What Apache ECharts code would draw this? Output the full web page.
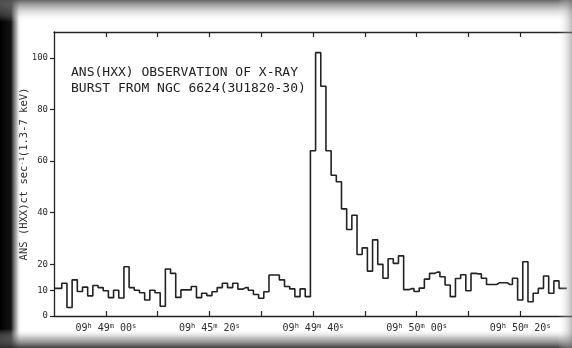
<!DOCTYPE html>
<html>
<head>
<meta charset="utf-8">
<script src="https://cdn.jsdelivr.net/npm/echarts@6/dist/echarts.min.js"></script>
<style>
  html, body { margin: 0; padding: 0; background: #fff; }
  #chart { width: 572px; height: 348px; }
</style>
</head>
<body>
<div id="chart"></div>
<script>
// Count rate per 1-second bin, starting at 09h48m50s (t = 0 s)
const countRate = [
  10.7, 10.7, 12.7, 3.3, 14, 9.5, 11.2, 7.8, 11.8, 11,
  9.8, 7.1, 10, 7, 19.1, 11, 10, 9, 6.2, 10,
  9, 3.8, 18.2, 16.5, 7.2, 10.1, 10.1, 11.4, 7.1, 8.8,
  7.9, 9.4, 11, 12.7, 11, 12.7, 10.4, 11, 10, 8.3,
  6.9, 9.4, 15.9, 15.9, 14, 11.4, 10.5, 7.5, 10.5, 7.5,
  64, 102, 89, 64, 54.5, 52, 41.5, 33.5, 39, 23.8,
  26.4, 17.4, 29.5, 20, 14.6, 22.2, 20.4, 23.3, 10.2, 10.6,
  9.5, 10.8, 14.3, 16.5, 17, 15.2, 12, 7.5, 14.5, 16,
  9.8, 16.5, 16.3, 14.6, 12.2, 12.2, 12.9, 12.9, 12.2, 14.6,
  6.2, 21, 5.5, 8.8, 10.7, 15.5, 8.8, 13.6, 10.7, 10.7
];

// Time axis (seconds after 09h48m50s)
const tickSeconds = [10, 20, 30, 40, 50, 60, 70, 80, 90];
const labelSeconds = [10, 30, 50, 70, 90];
const timeLabels = ['09h49m00s', '09h45m20s', '09h49m40s', '09h50m00s', '09h50m20s'];

// Count-rate axis
const yTickValues = [0, 10, 20, 40, 60, 80, 100];

const titleLines = ['ANS(HXX) OBSERVATION OF X-RAY', 'BURST FROM NGC 6624(3U1820-30)'];

const MONO = "'DejaVu Sans Mono', 'Liberation Mono', monospace";
const INK = '#222222';

// Turn "09h49m00s" into rich text with raised unit letters
function richTime(str) {
  return str.replace(/(\d\d)([hms])/g, '$1{s|$2} ').trim();
}

const binData = countRate.map((v, i) => [i, v]);

const chart = echarts.init(document.getElementById('chart'), null, { renderer: 'canvas' });

chart.setOption({
  animation: false,
  backgroundColor: '#ffffff',
  title: {
    text: titleLines.join('\n'),
    left: 66,
    top: 60,
    textStyle: {
      fontFamily: MONO,
      fontSize: 13,
      fontWeight: 'normal',
      lineHeight: 15.5,
      color: '#222'
    }
  },
  grid: { left: 54, top: 32, width: 525, height: 284, containLabel: false },
  xAxis: [
    {
      type: 'value',
      position: 'bottom',
      min: 0,
      max: 100,
      interval: 10,
      splitLine: { show: false },
      axisLine: { onZero: false, lineStyle: { color: INK, width: 1.3 } },
      axisTick: {
        inside: true, length: 5, customValues: tickSeconds,
        lineStyle: { color: INK, width: 1.2 }
      },
      axisLabel: {
        margin: 7,
        customValues: labelSeconds,
        fontFamily: MONO,
        fontSize: 10,
        color: '#2a2a2a',
        formatter: function (val) {
          const i = labelSeconds.indexOf(Math.round(val));
          return i >= 0 ? richTime(timeLabels[i]) : '';
        },
        rich: {
          s: { fontFamily: MONO, fontSize: 7, color: '#2a2a2a', verticalAlign: 'top', lineHeight: 8 }
        }
      }
    },
    {
      type: 'value',
      position: 'top',
      min: 0,
      max: 100,
      interval: 10,
      splitLine: { show: false },
      axisLine: { onZero: false, lineStyle: { color: INK, width: 1.3 } },
      axisTick: {
        inside: true, length: 5, customValues: tickSeconds,
        lineStyle: { color: INK, width: 1.2 }
      },
      axisLabel: { show: false }
    }
  ],
  yAxis: {
    type: 'value',
    min: 0,
    max: 110,
    interval: 10,
    splitLine: { show: false },
    axisLine: { show: true, onZero: false, lineStyle: { color: INK, width: 1.3 } },
    axisTick: {
      show: true, inside: false, length: 4, customValues: yTickValues,
      lineStyle: { color: INK, width: 1.2 }
    },
    axisLabel: {
      margin: 6,
      customValues: yTickValues,
      fontFamily: MONO,
      fontSize: 9,
      color: '#2a2a2a',
      formatter: function (val) {
        return yTickValues.indexOf(val) >= 0 ? String(val) : '';
      }
    },
    name: 'ANS (HXX)ct sec{sup|-1}(1.3-7 keV)',
    nameLocation: 'middle',
    nameRotate: 90,
    nameGap: 24,
    nameMoveOverlap: false,
    nameTextStyle: {
      fontFamily: MONO,
      fontSize: 10.5,
      color: '#2a2a2a',
      rich: {
        sup: { fontFamily: MONO, fontSize: 7, color: '#2a2a2a', verticalAlign: 'top', lineHeight: 8 }
      }
    }
  },
  series: [
    {
      type: 'line',
      step: 'middle',
      data: binData,
      symbol: 'none',
      showSymbol: false,
      clip: true,
      lineStyle: { color: INK, width: 1.6 }
    }
  ],
  // darkened edges of the photographed sheet
  graphic: [
    {
      type: 'rect', z: 100, silent: true,
      shape: { x: 0, y: 0, width: 22, height: 348 },
      style: {
        fill: {
          type: 'linear', x: 0, y: 0, x2: 1, y2: 0,
          colorStops: [
            { offset: 0, color: 'rgba(0,0,0,1)' },
            { offset: 0.5, color: 'rgba(10,10,10,0.96)' },
            { offset: 0.75, color: 'rgba(80,80,80,0.45)' },
            { offset: 0.9, color: 'rgba(200,200,200,0.12)' },
            { offset: 1, color: 'rgba(255,255,255,0)' }
          ]
        }
      }
    },
    {
      type: 'rect', z: 100, silent: true,
      shape: { x: 0, y: 0, width: 572, height: 22 },
      style: {
        fill: {
          type: 'linear', x: 0, y: 0, x2: 0, y2: 1,
          colorStops: [
            { offset: 0, color: 'rgba(85,85,85,0.9)' },
            { offset: 0.45, color: 'rgba(150,150,150,0.45)' },
            { offset: 1, color: 'rgba(255,255,255,0)' }
          ]
        }
      }
    },
    {
      type: 'rect', z: 100, silent: true,
      shape: { x: 0, y: 329, width: 572, height: 19 },
      style: {
        fill: {
          type: 'linear', x: 0, y: 0, x2: 0, y2: 1,
          colorStops: [
            { offset: 0, color: 'rgba(255,255,255,0)' },
            { offset: 0.45, color: 'rgba(140,140,140,0.5)' },
            { offset: 1, color: 'rgba(45,45,45,0.92)' }
          ]
        }
      }
    },
    {
      type: 'rect', z: 100, silent: true,
      shape: { x: 558, y: 0, width: 14, height: 348 },
      style: {
        fill: {
          type: 'linear', x: 0, y: 0, x2: 1, y2: 0,
          colorStops: [
            { offset: 0, color: 'rgba(255,255,255,0)' },
            { offset: 1, color: 'rgba(130,130,130,0.55)' }
          ]
        }
      }
    }
  ]
});
</script>
</body>
</html>
